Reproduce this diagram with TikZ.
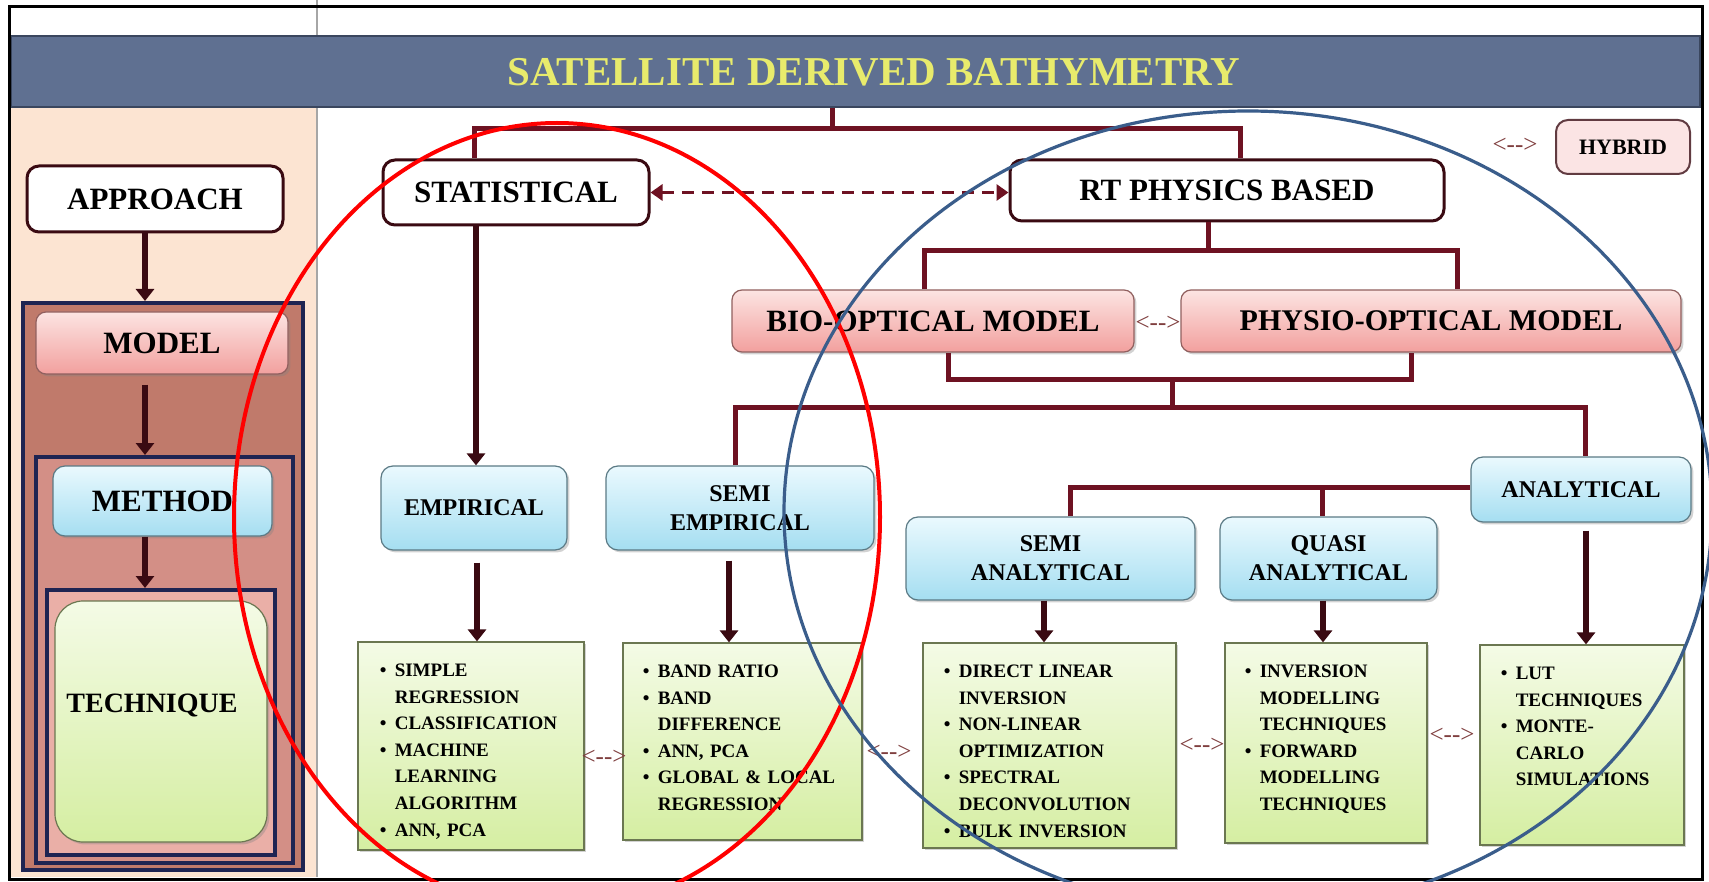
\documentclass[tikz,border=0pt]{standalone}
\usepackage{fontspec}
\setmainfont{Liberation Serif}
\usepackage{tikz}
\usetikzlibrary{arrows.meta,shadows}

\definecolor{bannerblue}{HTML}{5F7091}
\definecolor{bannerdark}{HTML}{3A465E}
\definecolor{titleyellow}{HTML}{E8EB6C}
\definecolor{peach}{HTML}{FCE4D2}
\definecolor{maroon}{HTML}{6E1222}
\definecolor{darkarrow}{HTML}{3A0A12}
\definecolor{navy}{HTML}{1E2452}
\definecolor{roseA}{HTML}{C07A6B}
\definecolor{roseB}{HTML}{D38F86}
\definecolor{roseC}{HTML}{EAAFA7}
\definecolor{pinktop}{HTML}{FCE4E2}
\definecolor{pinkbot}{HTML}{F2A09E}
\definecolor{bluetop}{HTML}{EAF9FE}
\definecolor{bluebot}{HTML}{A5DEF1}
\definecolor{greentop}{HTML}{F4FBE6}
\definecolor{greenbot}{HTML}{D5EEA2}
\definecolor{hybridpink}{HTML}{FBE4E4}
\definecolor{hintred}{HTML}{7F3E3E}
\definecolor{redring}{HTML}{FF0000}
\definecolor{bluering}{HTML}{3A5D8B}

\newcommand{\bul}{\par\hangindent=7.5pt\hangafter=1\noindent\makebox[7.5pt][l]{\textbullet}}

\tikzset{
  softshadow/.style={drop shadow={opacity=0.35,shadow xshift=1.2pt,shadow yshift=-1.2pt}},
  labelfont/.style={font=\fontsize{15.5}{17}\selectfont\bfseries},
  bannerbar/.style={fill=bannerblue, draw=bannerdark, line width=1pt, inner sep=0pt,
    minimum width=844.5pt, minimum height=35.5pt},
  titletext/.style={text=titleyellow, font=\fontsize{20.5}{22}\selectfont\bfseries},
  plainbox/.style={draw=darkarrow, line width=1.5pt, fill=white, rounded corners=6pt,
    inner sep=0pt, labelfont},
  modelbox/.style={draw=pinkbot!60!black, line width=0.6pt, top color=pinktop,
    bottom color=pinkbot, rounded corners=5pt, inner sep=0pt, softshadow, labelfont},
  methodbox/.style={draw=bluebot!55!black, line width=0.6pt, top color=bluetop,
    bottom color=bluebot, rounded corners=6pt, inner sep=0pt, softshadow, align=center,
    font=\fontsize{12}{14.5}\selectfont\bfseries},
  techbox/.style={draw=greenbot!50!black, line width=0.6pt, top color=greentop,
    bottom color=greenbot, inner sep=0pt, softshadow},
  techtext/.style={anchor=north west, inner sep=0pt, text width=112pt, align=left,
    font=\fontsize{9.5}{13.3}\selectfont\bfseries},
  navyframe/.style={draw=navy, line width=2pt, inner sep=0pt},
  link/.style={draw=maroon, line width=2.5pt},
  downarrow/.style={draw=darkarrow, line width=3pt, -{Triangle[width=9pt,length=6pt]}},
  hintmark/.style={text=hintred, font=\fontsize{12.5}{12.5}\selectfont},
}

\begin{document}
\begin{tikzpicture}[x=0.5pt,y=-0.5pt]

        \useasboundingbox (0,0) rectangle (1709,882);
        \clip (0,0) rectangle (1709,882);
        %Background
        \fill[white] (0,0) rectangle (1709,882);
        \fill[peach] (11,107) rectangle (317,877);
        \draw[gray!70, line width=0.8pt] (317,107) -- (317,877);
        \draw[gray!70, line width=0.8pt] (317,0) -- (317,36);
        %Banner
        \node[bannerbar] (banner) at (855.5,71.5) {};
        \node[titletext] (title) at (874,72) {SATELLITE DERIVED BATHYMETRY};

        %Left column
        \node[plainbox, minimum width=128pt, minimum height=33pt] (approach) at (155,199) {APPROACH};
        \node[navyframe, fill=roseA, minimum width=140pt, minimum height=283.5pt] (modelbg) at (163,586.5) {};
        \node[modelbox, minimum width=126pt, minimum height=31pt] (model) at (162,343) {MODEL};
        \node[navyframe, fill=roseB, minimum width=128.5pt, minimum height=203pt] (methodbg) at (164.5,660) {};
        \node[methodbox, labelfont, minimum width=109.5pt, minimum height=35pt] (method) at (162.5,501) {METHOD};
        \node[navyframe, fill=roseC, minimum width=114pt, minimum height=132.5pt] (techbg) at (161,722.5) {};
        \node[techbox, rounded corners=14pt, minimum width=106pt, minimum height=120.5pt] (technique) at (161,721.5) {};
        \node[labelfont, font=\fontsize{14}{16}\selectfont\bfseries] (techlabel) at (152,705) {TECHNIQUE};
        \coordinate (lx) at (145,0);
        \draw[downarrow] (lx |- approach.south) -- (lx |- modelbg.north);
        \draw[downarrow, shorten <=5pt] (lx |- model.south) -- (lx |- methodbg.north);
        \draw[downarrow] (lx |- method.south) -- (lx |- techbg.north);

        %Top level
        \node[plainbox, minimum width=133pt, minimum height=32.5pt] (stat) at (516,192.5) {STATISTICAL};
        \node[plainbox, minimum width=217pt, minimum height=30.5pt] (rt) at (1227,190.5) {RT PHYSICS BASED};
        \node[plainbox, draw=darkarrow!80, line width=1pt, fill=hybridpink, minimum width=67pt,
          minimum height=27pt, font=\fontsize{11}{12}\selectfont\bfseries] (hybrid) at (1623,147) {HYBRID};
        \node[hintmark] (hintA) at (1515,145) {<{-}{-}>};
        \coordinate (tA) at (832,129);
        \coordinate (tS) at (474,129);
        \coordinate (tR) at (1240,129);
        \draw[link] (tA |- banner.south) -- (tA);
        \draw[link] (tS |- stat.north) -- (tS) -- (tR) -- (tR |- rt.north);
        \draw[maroon, line width=1.5pt, dash pattern=on 6pt off 4pt,
          {Triangle[width=8pt,length=6pt]}-{Triangle[width=8pt,length=6pt]}]
          (stat.east) -- (stat.east -| rt.west);

        %Models
        \node[modelbox, minimum width=201pt, minimum height=31pt] (bio) at (933,321) {BIO-OPTICAL MODEL};
        \node[modelbox, minimum width=250pt, minimum height=31pt,
          font=\fontsize{15}{17}\selectfont\bfseries] (physio) at (1431,321) {PHYSIO-OPTICAL MODEL};
        \node[hintmark] (hintB) at (1158,323) {<{-}{-}>};
        \coordinate (rA) at (1208,251);
        \coordinate (bA) at (924,251);
        \coordinate (pA) at (1457,251);
        \draw[link] (rA |- rt.south) -- (rA);
        \draw[link] (bA |- bio.north) -- (bA) -- (pA) -- (pA |- physio.north);

        %Methods
        \node[methodbox, minimum width=93pt, minimum height=42pt] (emp) at (474,508) {EMPIRICAL};
        \node[methodbox, minimum width=134pt, minimum height=42pt] (semiemp) at (740,508) {SEMI\\EMPIRICAL};
        \node[methodbox, minimum width=110pt, minimum height=32.5pt] (analytical) at (1581,489.5) {ANALYTICAL};
        \node[methodbox, minimum width=144.5pt, minimum height=41.5pt] (semiana) at (1050.5,558.5) {SEMI\\ANALYTICAL};
        \node[methodbox, minimum width=108.5pt, minimum height=41.5pt] (quasi) at (1328.5,558.5) {QUASI\\ANALYTICAL};
        \coordinate (jB) at (948,380);
        \coordinate (jP) at (1411,380);
        \coordinate (jM) at (1172,380);
        \coordinate (jN) at (1172,407);
        \coordinate (jE) at (735,407);
        \coordinate (jR) at (1585,407);
        \draw[link] (jB |- bio.south) -- (jB) -- (jP) -- (jP |- physio.south);
        \draw[link] (jM) -- (jN);
        \draw[link] (jE |- semiemp.north) -- (jE) -- (jR) -- (jR |- analytical.north);
        \coordinate (aS) at (1070,487);
        \coordinate (aQ) at (1322,487);
        \draw[link] (aS |- semiana.north) -- (aS) -- (analytical.west |- aS);
        \draw[link] (aQ) -- (aQ |- quasi.north);
        \draw[downarrow] (476,0 |- stat.south) -- (476,0 |- emp.north);

        %Techniques
        \node[techbox, minimum width=113pt, minimum height=104pt] (techA) at (471,746) {};
        \node[techbox, minimum width=119.5pt, minimum height=98.5pt] (techB) at (742.5,741.5) {};
        \node[techbox, minimum width=126.5pt, minimum height=102.5pt] (techC) at (1049.5,745.5) {};
        \node[techbox, minimum width=101pt, minimum height=100pt] (techD) at (1326,743) {};
        \node[techbox, minimum width=102pt, minimum height=100pt] (techE) at (1582,745) {};
        \node[techtext] (listA) at ([xshift=11pt,yshift=-4pt]techA.north west)
          {\bul SIMPLE\newline REGRESSION\bul CLASSIFICATION\bul MACHINE\newline LEARNING\newline ALGORITHM\bul ANN, PCA\par};
        \node[techtext] (listB) at ([xshift=10pt,yshift=-4pt]techB.north west)
          {\bul BAND RATIO\bul BAND\newline DIFFERENCE\bul ANN, PCA\bul GLOBAL \& LOCAL\newline REGRESSION\par};
        \node[techtext] (listC) at ([xshift=10.5pt,yshift=-4pt]techC.north west)
          {\bul DIRECT LINEAR\newline INVERSION\bul NON-LINEAR\newline OPTIMIZATION\bul SPECTRAL\newline DECONVOLUTION\bul BULK INVERSION\par};
        \node[techtext] (listD) at ([xshift=10pt,yshift=-4pt]techD.north west)
          {\bul INVERSION\newline MODELLING\newline TECHNIQUES\bul FORWARD\newline MODELLING\newline TECHNIQUES\par};
        \node[techtext] (listE) at ([xshift=10.5pt,yshift=-4pt]techE.north west)
          {\bul LUT\newline TECHNIQUES\bul MONTE-\newline CARLO\newline SIMULATIONS\par};
        \node[hintmark] (hintC) at (604,757) {<{-}{-}>};
        \node[hintmark] (hintD) at (889,752) {<{-}{-}>};
        \node[hintmark] (hintE) at (1202,745) {<{-}{-}>};
        \node[hintmark] (hintF) at (1452,735) {<{-}{-}>};
        \draw[downarrow, shorten <=6pt] (477,0 |- emp.south) -- (477,0 |- techA.north);
        \draw[downarrow, shorten <=5pt] (729,0 |- semiemp.south) -- (729,0 |- techB.north);
        \draw[downarrow] (1044,0 |- semiana.south) -- (1044,0 |- techC.north);
        \draw[downarrow] (1323,0 |- quasi.south) -- (1323,0 |- techD.north);
        \draw[downarrow, shorten <=4pt] (1586,0 |- analytical.south) -- (1586,0 |- techE.north);

        %Frame
        \draw[black, line width=1.5pt] (9,7) rectangle (1702,879);

        %Rings
        \draw[redring, line width=2pt] (557,517) ellipse [x radius=323, y radius=394];
        \draw[bluering, line width=1.6pt] (1248,512) ellipse [x radius=464, y radius=401];
      \end{tikzpicture}
\end{document}
